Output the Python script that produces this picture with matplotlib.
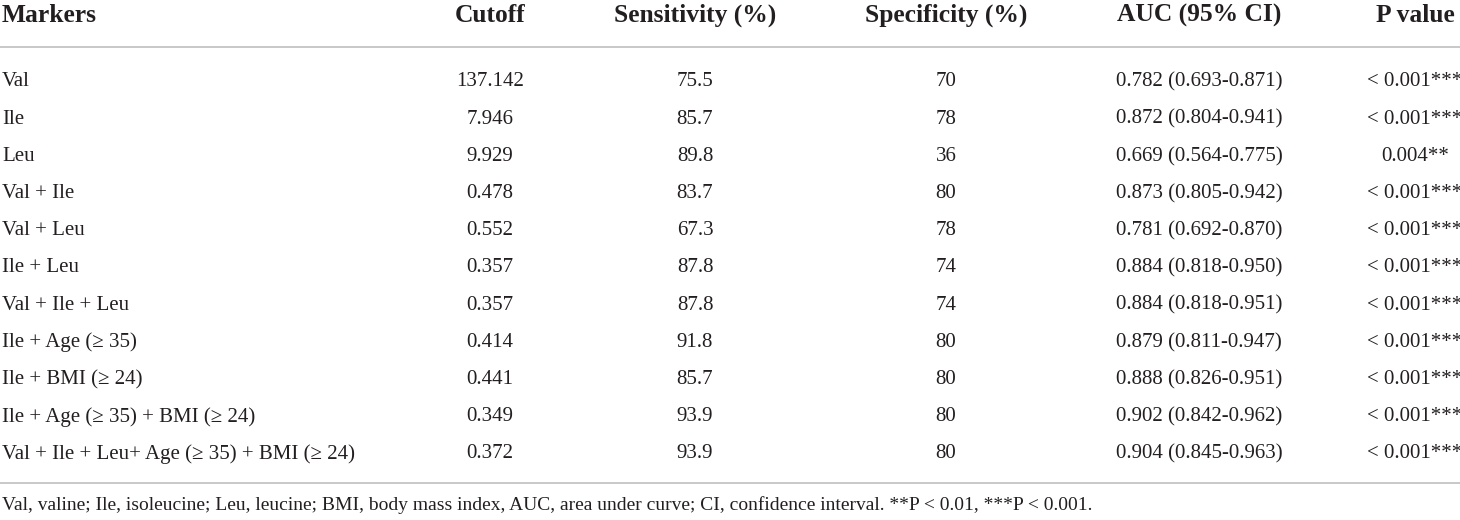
import matplotlib.pyplot as plt

plt.rcParams['font.family'] = ['Liberation Serif', 'DejaVu Serif']

headers = ["Markers", "Cutoff", "Sensitivity (%)", "Specificity (%)", "AUC (95% CI)", "P value"]
markers = ["Val", "Ile", "Leu", "Val + Ile", "Val + Leu", "Ile + Leu", "Val + Ile + Leu",
           "Ile + Age (\u2265 35)", "Ile + BMI (\u2265 24)", "Ile + Age (\u2265 35) + BMI (\u2265 24)",
           "Val + Ile + Leu+ Age (\u2265 35) + BMI (\u2265 24)"]
cutoff = ["137.142", "7.946", "9.929", "0.478", "0.552", "0.357", "0.357", "0.414", "0.441", "0.349", "0.372"]
sensitivity = ["75.5", "85.7", "89.8", "83.7", "67.3", "87.8", "87.8", "91.8", "85.7", "93.9", "93.9"]
specificity = ["70", "78", "36", "80", "78", "74", "74", "80", "80", "80", "80"]
auc = ["0.782 (0.693-0.871)", "0.872 (0.804-0.941)", "0.669 (0.564-0.775)", "0.873 (0.805-0.942)",
       "0.781 (0.692-0.870)", "0.884 (0.818-0.950)", "0.884 (0.818-0.951)", "0.879 (0.811-0.947)",
       "0.888 (0.826-0.951)", "0.902 (0.842-0.962)", "0.904 (0.845-0.963)"]
pvalue = ["< 0.001***", "< 0.001***", "0.004**", "< 0.001***", "< 0.001***", "< 0.001***",
          "< 0.001***", "< 0.001***", "< 0.001***", "< 0.001***", "< 0.001***"]
footnote = ("Val, valine; Ile, isoleucine; Leu, leucine; BMI, body mass index, AUC, area under curve; "
            "CI, confidence interval. **P < 0.01, ***P < 0.001.")

# layout in pixels
col_x = [2, 490, 695, 946, 1199, 1415]
header_y = 15
top_line = 46.5
row0 = 82
row_h = 37.2
bottom_line = 483
foot_y = 505
txt = '#231f20'
rule = '#c4c4c4'

fig = plt.figure(figsize=(14.6, 5.2), dpi=100)
ax = fig.add_axes([0, 0, 1, 1])
ax.set_xlim(0, 1460)
ax.set_ylim(520, 0)
ax.axis('off')

for i, h in enumerate(headers):
    ha = 'left' if i == 0 else 'center'
    ax.text(col_x[i], header_y, h, ha=ha, va='center', fontsize=18.4, fontweight='bold', color=txt)

ax.plot([0, 1460], [top_line, top_line], color=rule, lw=1.3)
ax.plot([0, 1460], [bottom_line, bottom_line], color=rule, lw=1.3)

columns = [markers, cutoff, sensitivity, specificity, auc, pvalue]
for r in range(len(markers)):
    y = row0 + r * row_h
    for c, col in enumerate(columns):
        ha = 'left' if c == 0 else 'center'
        ax.text(col_x[c], y, col[r], ha=ha, va='center', fontsize=15, color=txt)

ax.text(2, foot_y, footnote, ha='left', va='center', fontsize=14, color=txt)

fig.savefig('out.png', dpi=100)
